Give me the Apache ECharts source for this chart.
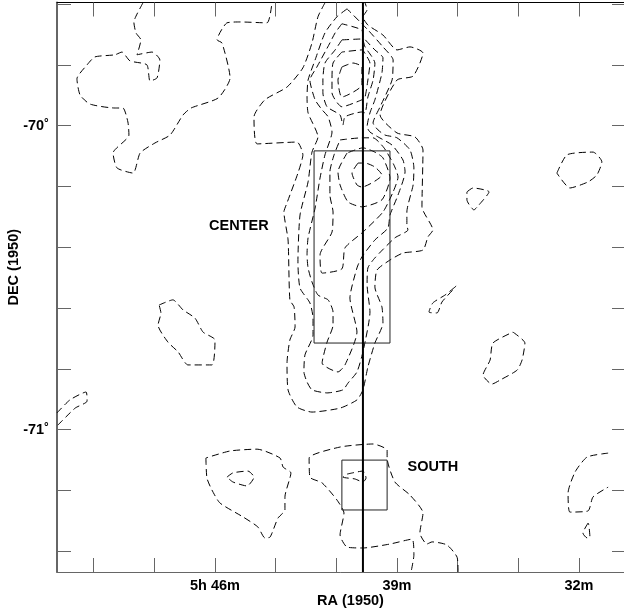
<!DOCTYPE html>
<html><head><meta charset="utf-8">
<style>html,body{margin:0;padding:0;background:#fff;overflow:hidden}#c{width:624px;height:612px}</style>
<script src="https://cdn.jsdelivr.net/npm/echarts@6/dist/echarts.min.js"></script>
</head><body><div id="c"></div>
<script>
// Axis data
const raTicks = [50.667,48.333,46,43.667,41.333,39,36.667,34.333,32];
const raLabelValues = [46,39,32];
const raLabelTexts = ['5h 46m','39m','32m'];
const decTicks = [-69.6,-69.8,-70,-70.2,-70.4,-70.6,-70.8,-71,-71.2,-71.4];
const decLabelValues = [-70,-71];
const decLabelTexts = ['-70˚','-71˚'];
const raRange = [30.192,52.077];
const decRange = [-71.468,-69.595];

// Contours as [RA minutes, Dec degrees]
const contourNorthWest = [[48.77,-69.596],[49.00,-69.633],[49.12,-69.659],[49.04,-69.695],[48.85,-69.718],[49.00,-69.767],[48.42,-69.758],[48.12,-69.784],[48.23,-69.843],[48.50,-69.853],[48.62,-69.800],[49.27,-69.787],[49.58,-69.758],[49.85,-69.767],[50.62,-69.774],[50.92,-69.800],[51.31,-69.846],[51.19,-69.899],[50.81,-69.929],[49.85,-69.942],[49.54,-69.942],[49.35,-69.988],[49.31,-70.031],[49.92,-70.090],[49.77,-70.139],[49.15,-70.156],[48.88,-70.090],[48.31,-70.057],[47.73,-70.031],[47.23,-69.965],[46.92,-69.942],[45.88,-69.909],[45.42,-69.843],[45.73,-69.728],[45.92,-69.718],[45.54,-69.662],[45.04,-69.659],[44.00,-69.662],[43.81,-69.596]];
const contourCenter1 = [[41.77,-69.596],[42.04,-69.642],[42.27,-69.728],[42.62,-69.810],[43.23,-69.873],[44.08,-69.915],[44.50,-69.971],[44.38,-70.060],[42.85,-70.054],[42.62,-70.096],[42.81,-70.156],[43.23,-70.254],[43.35,-70.284],[43.19,-70.376],[43.12,-70.573],[42.96,-70.596],[42.92,-70.662],[43.12,-70.705],[43.23,-70.781],[43.19,-70.869],[42.85,-70.925],[42.27,-70.942],[41.19,-70.929],[40.54,-70.902],[40.31,-70.869],[40.12,-70.794],[39.85,-70.715],[39.54,-70.649],[39.58,-70.596],[39.85,-70.531],[39.77,-70.475],[39.27,-70.442],[38.77,-70.419],[38.00,-70.409],[37.81,-70.366],[37.62,-70.343],[38.04,-70.267],[38.00,-70.080],[38.31,-70.037],[39.00,-70.024],[39.65,-69.965],[39.00,-69.850],[38.38,-69.837],[38.00,-69.761],[38.50,-69.741],[39.00,-69.751],[39.54,-69.702],[40.12,-69.669],[40.31,-69.642],[40.15,-69.619],[40.23,-69.596]];
const contourCenter2 = [[40.92,-69.616],[41.31,-69.642],[41.77,-69.695],[42.15,-69.784],[42.42,-69.850],[42.46,-69.906],[42.42,-69.958],[42.04,-70.037],[42.27,-70.087],[42.42,-70.185],[42.73,-70.294],[42.81,-70.448],[42.73,-70.534],[42.35,-70.583],[42.23,-70.633],[42.23,-70.689],[42.54,-70.754],[42.58,-70.810],[42.46,-70.843],[42.27,-70.869],[41.69,-70.879],[41.08,-70.869],[40.88,-70.846],[40.54,-70.810],[40.31,-70.744],[40.04,-70.613],[40.15,-70.524],[40.12,-70.468],[39.85,-70.435],[39.08,-70.369],[38.58,-70.343],[38.62,-70.327],[38.62,-70.284],[38.38,-70.195],[38.35,-70.139],[38.50,-70.080],[39.00,-70.040],[39.46,-70.031],[39.73,-70.014],[39.92,-69.991],[39.65,-69.938],[39.19,-69.850],[39.15,-69.784],[39.54,-69.741],[40.12,-69.685]];
const contourCenter3 = [[41.12,-69.665],[41.38,-69.695],[41.58,-69.728],[42.08,-69.807],[42.35,-69.850],[42.15,-69.915],[41.88,-69.948],[41.65,-69.971],[41.50,-70.021],[41.77,-70.096],[41.96,-70.172],[42.15,-70.271],[42.42,-70.369],[42.46,-70.425],[42.42,-70.468],[42.27,-70.514],[42.04,-70.557],[41.65,-70.573],[41.46,-70.613],[41.46,-70.656],[41.69,-70.712],[41.88,-70.781],[41.27,-70.810],[41.00,-70.787],[40.54,-70.679],[40.81,-70.567],[40.54,-70.468],[40.35,-70.432],[39.85,-70.376],[39.35,-70.337],[39.27,-70.294],[38.96,-70.228],[38.69,-70.152],[38.77,-70.113],[39.19,-70.064],[39.73,-70.037],[40.04,-70.021],[40.15,-70.004],[40.04,-69.958],[39.85,-69.915],[39.58,-69.827],[39.54,-69.777],[39.85,-69.751],[40.31,-69.708],[40.35,-69.685]];
const contourPeakN1 = [[41.12,-69.718],[41.38,-69.751],[41.77,-69.794],[41.85,-69.850],[41.85,-69.892],[41.69,-69.938],[41.19,-69.965],[41.08,-69.998],[41.00,-69.971],[40.35,-69.955],[40.23,-69.958],[40.12,-69.906],[39.92,-69.850],[39.85,-69.794],[39.96,-69.774],[40.23,-69.741],[40.35,-69.715]];
const contourPeakN2 = [[41.12,-69.758],[41.46,-69.794],[41.50,-69.850],[41.50,-69.892],[41.12,-69.938],[40.35,-69.915],[40.23,-69.906],[40.12,-69.850],[40.04,-69.794],[40.15,-69.774],[40.35,-69.751]];
const contourPeakN3 = [[41.12,-69.807],[40.69,-69.794],[40.35,-69.807],[40.35,-69.866],[41.12,-69.906],[41.27,-69.850]];
const contourPeakC1 = [[41.19,-70.047],[40.35,-70.040],[39.92,-70.040],[39.50,-70.073],[39.12,-70.129],[38.96,-70.169],[39.15,-70.218],[39.54,-70.284],[40.31,-70.350],[41.00,-70.402],[41.12,-70.471],[41.88,-70.485],[41.96,-70.425],[41.50,-70.350],[41.46,-70.284],[41.58,-70.228],[41.58,-70.152],[41.42,-70.096]];
const contourPeakC2 = [[40.92,-70.090],[41.27,-70.152],[41.19,-70.195],[40.88,-70.251],[40.35,-70.267],[39.58,-70.244],[39.27,-70.172],[39.54,-70.106],[39.85,-70.087],[40.31,-70.073]];
const contourPeakC3 = [[40.50,-70.123],[40.73,-70.156],[40.54,-70.195],[40.35,-70.202],[39.58,-70.162],[39.85,-70.136],[40.23,-70.123]];
const contourSouthWest = [[46.35,-71.093],[46.31,-71.159],[46.12,-71.198],[45.81,-71.241],[44.92,-71.287],[44.35,-71.320],[44.08,-71.356],[43.88,-71.353],[43.58,-71.291],[43.31,-71.264],[43.31,-71.221],[43.08,-71.142],[43.38,-71.123],[43.50,-71.093],[44.38,-71.064],[45.42,-71.070]];
const contourSouthWestPeak = [[45.54,-71.156],[45.31,-71.142],[44.73,-71.136],[44.50,-71.156],[44.77,-71.185],[45.31,-71.172]];
const contourSouth = [[36.65,-71.468],[36.69,-71.419],[37.08,-71.379],[37.65,-71.369],[37.85,-71.376],[38.12,-71.340],[38.00,-71.274],[38.50,-71.215],[39.08,-71.172],[39.38,-71.093],[39.38,-71.067],[39.92,-71.047],[41.19,-71.057],[42.38,-71.093],[42.35,-71.156],[41.88,-71.175],[41.31,-71.231],[41.04,-71.274],[41.19,-71.346],[40.92,-71.386],[40.31,-71.389],[39.27,-71.376],[38.42,-71.360],[38.35,-71.412],[38.46,-71.468]];
const contourSouthPeak = [[40.92,-71.146],[40.31,-71.136],[40.19,-71.159],[40.31,-71.172],[40.62,-71.162],[41.08,-71.156]];
const contourEast1 = [[32.85,-70.156],[32.46,-70.096],[31.46,-70.087],[31.12,-70.119],[31.31,-70.162],[31.65,-70.185],[32.35,-70.205]];
const contourEast2 = [[36.31,-70.218],[36.08,-70.205],[35.46,-70.218],[35.85,-70.261],[36.04,-70.277],[36.31,-70.244]];
const contourEast3 = [[36.77,-70.531],[37.15,-70.557],[37.62,-70.583],[37.77,-70.613],[37.46,-70.616],[37.27,-70.580],[36.85,-70.540],[36.73,-70.527]];
const contourEast4 = [[34.54,-70.679],[34.08,-70.715],[34.19,-70.771],[34.38,-70.804],[35.04,-70.837],[35.35,-70.850],[35.69,-70.820],[35.42,-70.771],[35.31,-70.715]];
const contourWest1 = [[48.15,-70.590],[47.62,-70.573],[47.23,-70.606],[46.77,-70.633],[46.46,-70.679],[46.00,-70.705],[46.12,-70.787],[47.04,-70.787],[47.42,-70.744],[47.81,-70.712],[48.19,-70.656],[48.08,-70.616]];
const contourWest2 = [[52.08,-70.945],[51.58,-70.902],[50.96,-70.876],[50.92,-70.906],[51.38,-70.929],[52.08,-70.988]];
const contourSouthEast1 = [[30.88,-71.077],[31.69,-71.090],[32.15,-71.139],[32.42,-71.208],[32.35,-71.271],[31.65,-71.267],[31.46,-71.221],[30.88,-71.189]];
const contourSouthEast2 = [[31.65,-71.307],[31.85,-71.340],[31.69,-71.356],[31.58,-71.353],[31.62,-71.314]];

const closedContours = [contourCenter2,contourCenter3,contourPeakN1,contourPeakN2,contourPeakN3,contourPeakC1,contourPeakC2,contourPeakC3,contourSouthWest,contourSouthWestPeak,contourSouthPeak,contourEast1,contourEast2,contourEast4,contourWest1,contourSouthEast2];
const openContours = [contourNorthWest,contourCenter1,contourSouth,contourEast3,contourWest2,contourSouthEast1];

// Fields and slit
const centerBox = [[42.19,-70.083],[39.27,-70.083],[39.27,-70.715],[42.19,-70.715],[42.19,-70.083]];
const southBox = [[41.12,-71.100],[39.38,-71.100],[39.38,-71.264],[41.12,-71.264],[41.12,-71.100]];
const scanLine = [[40.31,-69.595],[40.31,-71.468]];
const regionLabels = [['CENTER',45.08,-70.330],['SOUTH',37.62,-71.123]];

const font = '"Liberation Sans", Arial, sans-serif';
const fontSize = 14.5;
const gray = '#666';
const dash = {type:[7,4],width:1,color:'#000'};
const lineSeries = (data, style, smooth) => ({type:'line',data,showSymbol:false,symbol:'none',silent:true,clip:true,smooth:smooth||false,lineStyle:style,animation:false,z:3});

const series = [
  ...openContours.map(c => lineSeries(c, dash, 0.2)),
  ...closedContours.map(c => lineSeries([...c, c[0]], dash, 0.2)),
  lineSeries(centerBox,{width:1,color:'#222'}),
  lineSeries(southBox,{width:1,color:'#222'}),
  lineSeries(scanLine,{width:2,color:'#000'}),
  {type:'scatter',symbolSize:0,silent:true,animation:false,itemStyle:{opacity:1},
   data:regionLabels.map(l=>({name:l[0],value:[l[1],l[2]]})),
   label:{show:true,position:'inside',opacity:1,formatter:p=>p.name,color:'#000',fontFamily:font,fontWeight:'bold',fontSize}}
];

const tickStyle = {show:true,inside:true,length:14,lineStyle:{color:gray,width:1}};
const baseAxis = {type:'value',scale:false,splitLine:{show:false}};

const chart = echarts.init(document.getElementById('c'),null,{renderer:'canvas'});
chart.setOption({
  animation:false,
  backgroundColor:'#fff',
  grid:{left:57,top:2.5,width:569,height:569.5,containLabel:false,outerBoundsMode:'none'},
  xAxis:[
    {...baseAxis,position:'bottom',inverse:true,min:raRange[0],max:raRange[1],
     name:'RA (1950)',nameLocation:'middle',nameGap:21,nameMoveOverlap:false,
     nameTextStyle:{color:'#000',fontFamily:font,fontWeight:'bold',fontSize,padding:[0,0,0,18]},
     axisLine:{show:true,onZero:false,lineStyle:{color:gray,width:1}},
     axisTick:{...tickStyle,customValues:raTicks},
     axisLabel:{show:true,customValues:raLabelValues,margin:6,color:'#000',fontFamily:font,fontWeight:'bold',fontSize,
       formatter:v=>raLabelTexts[raLabelValues.indexOf(v)]}},
    {...baseAxis,position:'top',inverse:true,min:raRange[0],max:raRange[1],
     axisLine:{show:true,onZero:false,lineStyle:{color:'#000',width:1}},
     axisTick:{...tickStyle,customValues:raTicks},axisLabel:{show:false}}
  ],
  yAxis:[
    {...baseAxis,position:'left',min:decRange[0],max:decRange[1],
     name:'DEC (1950)',nameLocation:'middle',nameGap:36,nameMoveOverlap:false,
     nameTextStyle:{color:'#000',fontFamily:font,fontWeight:'bold',fontSize,padding:[0,0,0,40]},
     axisLine:{show:true,onZero:false,lineStyle:{color:gray,width:2}},
     axisTick:{...tickStyle,customValues:decTicks},
     axisLabel:{show:true,customValues:decLabelValues,margin:8,color:'#000',fontFamily:font,fontWeight:'bold',fontSize,
       formatter:v=>decLabelTexts[decLabelValues.indexOf(v)]}},
    {...baseAxis,position:'right',min:decRange[0],max:decRange[1],
     axisLine:{show:true,onZero:false,lineStyle:{color:gray,width:1}},
     axisTick:{...tickStyle,customValues:decTicks},axisLabel:{show:false}}
  ],
  series
});
</script></body></html>
